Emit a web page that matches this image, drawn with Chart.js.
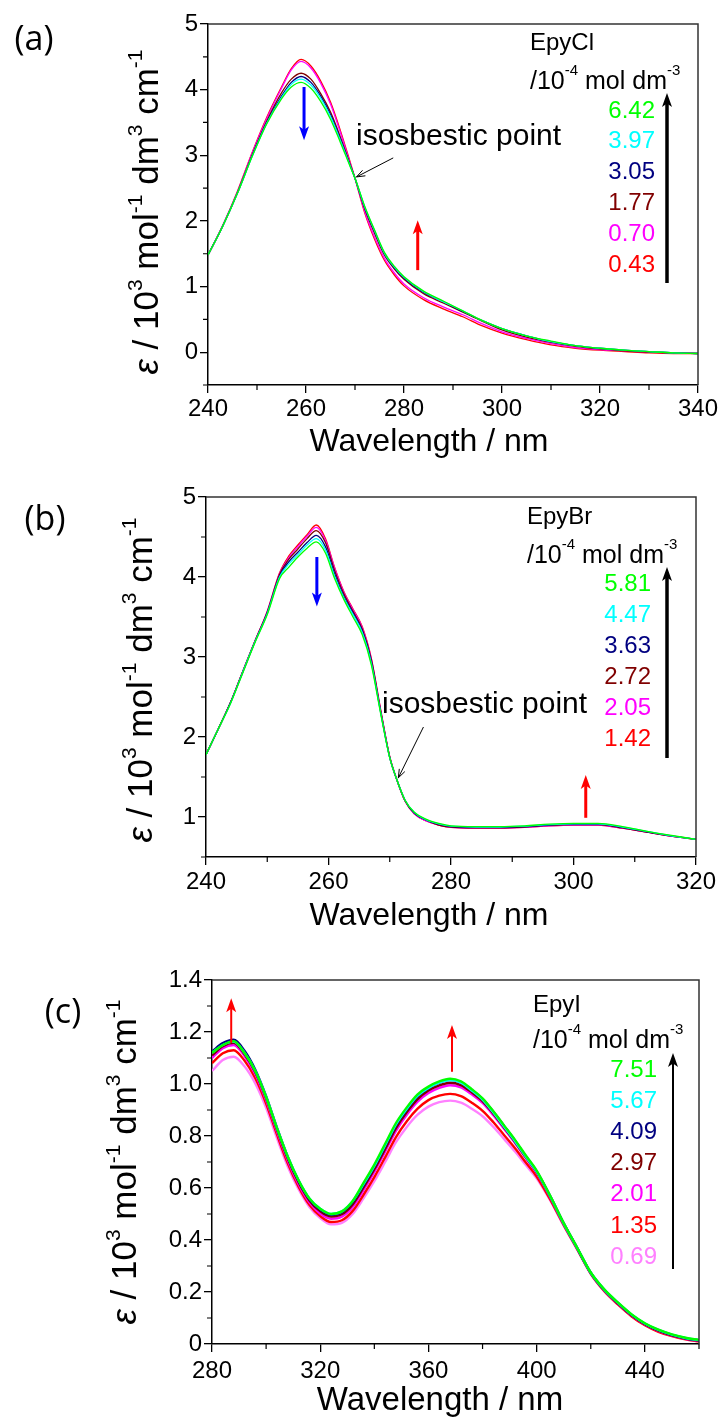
<!DOCTYPE html>
<html>
<head>
<meta charset="utf-8">
<title>UV-Vis spectra EpyCl / EpyBr / EpyI</title>
<script src="https://cdn.jsdelivr.net/npm/chart.js@4.4.1/dist/chart.umd.min.js"></script>
<style>
  html, body { margin: 0; padding: 0; background: #fff; }
  body { width: 721px; height: 1425px; position: relative; overflow: hidden; }
  canvas { position: absolute; left: 0; }
  #chartA { top: 0; }
  #chartB { top: 470px; }
  #chartC { top: 940px; }
</style>
</head>
<body>
<canvas id="chartA" width="721" height="470"></canvas>
<canvas id="chartB" width="721" height="470"></canvas>
<canvas id="chartC" width="721" height="485"></canvas>

<script>
// ---- (a) EpyCl ----
const waveCl = [240, 243, 246, 249, 252, 255, 257, 259, 261, 263, 265, 267, 269, 270, 272, 274, 276, 278, 280, 284, 288, 292, 296, 300, 305, 310, 315, 320, 325, 330, 335, 340];
const cl642 = [1.48, 1.92, 2.42, 2.98, 3.48, 3.86, 4.04, 4.11, 4.02, 3.82, 3.55, 3.20, 2.83, 2.65, 2.22, 1.86, 1.52, 1.31, 1.15, 0.93, 0.78, 0.63, 0.48, 0.36, 0.25, 0.17, 0.10, 0.06, 0.03, 0.01, -0.01, -0.02];
const cl397 = [1.48, 1.92, 2.42, 2.98, 3.49, 3.88, 4.08, 4.16, 4.07, 3.87, 3.59, 3.23, 2.84, 2.65, 2.21, 1.85, 1.51, 1.30, 1.14, 0.92, 0.77, 0.63, 0.48, 0.36, 0.25, 0.16, 0.10, 0.06, 0.03, 0.01, -0.01, -0.02];
const cl305 = [1.48, 1.92, 2.42, 2.99, 3.50, 3.90, 4.11, 4.20, 4.11, 3.90, 3.62, 3.25, 2.85, 2.65, 2.20, 1.84, 1.50, 1.29, 1.13, 0.91, 0.77, 0.62, 0.48, 0.36, 0.25, 0.16, 0.10, 0.06, 0.03, 0.01, -0.01, -0.02];
const cl177 = [1.48, 1.92, 2.43, 3.00, 3.52, 3.95, 4.16, 4.25, 4.16, 3.94, 3.66, 3.28, 2.86, 2.65, 2.18, 1.81, 1.48, 1.27, 1.11, 0.89, 0.75, 0.61, 0.47, 0.34, 0.23, 0.15, 0.09, 0.05, 0.02, 0.00, -0.01, -0.02];
const cl070 = [1.48, 1.93, 2.44, 3.03, 3.56, 4.02, 4.30, 4.43, 4.33, 4.10, 3.78, 3.35, 2.88, 2.65, 2.14, 1.75, 1.43, 1.21, 1.04, 0.83, 0.69, 0.57, 0.43, 0.31, 0.21, 0.13, 0.07, 0.04, 0.02, 0.00, -0.01, -0.02];
const cl043 = [1.48, 1.93, 2.45, 3.04, 3.58, 4.04, 4.32, 4.46, 4.36, 4.13, 3.81, 3.38, 2.90, 2.65, 2.12, 1.72, 1.40, 1.18, 1.01, 0.80, 0.66, 0.54, 0.40, 0.29, 0.19, 0.11, 0.06, 0.03, 0.01, -0.01, -0.02, -0.02];
const concCl = ['6.42', '3.97', '3.05', '1.77', '0.70', '0.43'];
const ticksXCl = [240, 260, 280, 300, 320, 340];
const ticksYCl = [0, 1, 2, 3, 4, 5];

// ---- (b) EpyBr ----
const waveBr = [240, 242, 244, 246, 248, 250, 252, 253.5, 255, 256.5, 258, 259.5, 261, 262.5, 264, 265.5, 267, 268.5, 270, 271, 272.5, 274, 276, 278, 280, 284, 288, 292, 296, 300, 304, 308, 312, 316, 320];
const br581 = [1.78, 2.10, 2.42, 2.80, 3.18, 3.53, 3.98, 4.12, 4.25, 4.36, 4.44, 4.30, 3.98, 3.72, 3.50, 3.28, 2.90, 2.30, 1.74, 1.50, 1.21, 1.06, 0.97, 0.92, 0.89, 0.88, 0.88, 0.89, 0.91, 0.92, 0.92, 0.88, 0.82, 0.77, 0.72];
const br447 = [1.78, 2.10, 2.42, 2.81, 3.19, 3.54, 4.00, 4.16, 4.28, 4.40, 4.48, 4.34, 4.01, 3.74, 3.53, 3.31, 2.92, 2.31, 1.74, 1.50, 1.21, 1.06, 0.965, 0.915, 0.885, 0.875, 0.875, 0.885, 0.905, 0.915, 0.915, 0.875, 0.82, 0.765, 0.72];
const br363 = [1.78, 2.10, 2.43, 2.81, 3.19, 3.55, 4.01, 4.19, 4.31, 4.43, 4.52, 4.38, 4.04, 3.76, 3.55, 3.33, 2.94, 2.32, 1.74, 1.50, 1.21, 1.05, 0.96, 0.91, 0.88, 0.87, 0.87, 0.88, 0.90, 0.91, 0.91, 0.87, 0.815, 0.765, 0.72];
const br272 = [1.78, 2.10, 2.43, 2.82, 3.20, 3.56, 4.03, 4.22, 4.35, 4.48, 4.58, 4.43, 4.08, 3.79, 3.57, 3.35, 2.96, 2.33, 1.75, 1.50, 1.20, 1.05, 0.96, 0.90, 0.875, 0.865, 0.865, 0.875, 0.895, 0.905, 0.905, 0.865, 0.81, 0.76, 0.72];
const br205 = [1.78, 2.10, 2.43, 2.82, 3.20, 3.57, 4.04, 4.24, 4.38, 4.51, 4.62, 4.46, 4.11, 3.81, 3.59, 3.37, 2.97, 2.34, 1.75, 1.50, 1.20, 1.04, 0.95, 0.90, 0.87, 0.86, 0.86, 0.87, 0.89, 0.90, 0.90, 0.86, 0.81, 0.76, 0.72];
const br142 = [1.78, 2.10, 2.43, 2.82, 3.20, 3.57, 4.05, 4.26, 4.40, 4.53, 4.65, 4.48, 4.12, 3.82, 3.60, 3.38, 2.98, 2.35, 1.75, 1.50, 1.20, 1.04, 0.95, 0.90, 0.87, 0.86, 0.86, 0.87, 0.89, 0.90, 0.90, 0.86, 0.81, 0.76, 0.72];
const concBr = ['5.81', '4.47', '3.63', '2.72', '2.05', '1.42'];
const ticksXBr = [240, 260, 280, 300, 320];
const ticksYBr = [1, 2, 3, 4, 5];

// ---- (c) EpyI ----
const waveI = [280, 284, 288, 292, 296, 300, 304, 308, 312, 316, 320, 324, 328, 332, 336, 340, 344, 348, 352, 356, 360, 364, 368, 372, 376, 380, 384, 388, 392, 396, 400, 405, 410, 415, 420, 425, 430, 435, 440, 445, 450, 455, 460];
const i751 = [1.12, 1.15, 1.165, 1.12, 1.05, 0.95, 0.83, 0.72, 0.63, 0.56, 0.52, 0.50, 0.51, 0.55, 0.62, 0.69, 0.77, 0.85, 0.91, 0.96, 0.99, 1.01, 1.02, 1.01, 0.98, 0.945, 0.895, 0.84, 0.785, 0.725, 0.667, 0.57, 0.465, 0.37, 0.275, 0.21, 0.16, 0.115, 0.08, 0.055, 0.037, 0.024, 0.016];
const i567 = [1.12, 1.15, 1.163, 1.12, 1.05, 0.95, 0.83, 0.72, 0.63, 0.56, 0.52, 0.50, 0.51, 0.55, 0.615, 0.685, 0.765, 0.845, 0.905, 0.955, 0.985, 1.005, 1.015, 1.005, 0.975, 0.94, 0.89, 0.835, 0.78, 0.72, 0.663, 0.568, 0.463, 0.369, 0.274, 0.209, 0.159, 0.114, 0.079, 0.054, 0.036, 0.023, 0.015];
const i409 = [1.125, 1.157, 1.17, 1.128, 1.055, 0.953, 0.832, 0.72, 0.628, 0.558, 0.517, 0.497, 0.507, 0.546, 0.612, 0.683, 0.762, 0.842, 0.903, 0.953, 0.985, 1.005, 1.016, 1.006, 0.977, 0.942, 0.893, 0.838, 0.782, 0.722, 0.664, 0.569, 0.464, 0.369, 0.274, 0.208, 0.158, 0.113, 0.078, 0.053, 0.035, 0.022, 0.014];
const i297 = [1.11, 1.145, 1.158, 1.115, 1.045, 0.945, 0.825, 0.713, 0.622, 0.552, 0.51, 0.49, 0.499, 0.537, 0.602, 0.672, 0.75, 0.83, 0.892, 0.942, 0.975, 0.995, 1.005, 0.996, 0.968, 0.934, 0.886, 0.832, 0.777, 0.718, 0.661, 0.567, 0.463, 0.368, 0.273, 0.207, 0.156, 0.111, 0.076, 0.051, 0.033, 0.021, 0.013];
const i201 = [1.10, 1.138, 1.15, 1.108, 1.038, 0.938, 0.818, 0.706, 0.615, 0.545, 0.502, 0.482, 0.49, 0.527, 0.592, 0.662, 0.74, 0.82, 0.882, 0.932, 0.965, 0.985, 0.995, 0.987, 0.96, 0.927, 0.88, 0.827, 0.773, 0.715, 0.658, 0.565, 0.462, 0.367, 0.272, 0.206, 0.155, 0.11, 0.075, 0.05, 0.032, 0.02, 0.012];
const i135 = [1.08, 1.118, 1.13, 1.09, 1.022, 0.925, 0.806, 0.695, 0.605, 0.535, 0.492, 0.469, 0.476, 0.512, 0.574, 0.642, 0.718, 0.796, 0.857, 0.905, 0.938, 0.955, 0.962, 0.953, 0.928, 0.897, 0.853, 0.803, 0.753, 0.698, 0.644, 0.556, 0.457, 0.364, 0.27, 0.203, 0.152, 0.107, 0.072, 0.047, 0.03, 0.018, 0.01];
const i069 = [1.05, 1.092, 1.105, 1.068, 1.002, 0.908, 0.792, 0.683, 0.595, 0.527, 0.484, 0.46, 0.466, 0.5, 0.56, 0.626, 0.7, 0.776, 0.835, 0.882, 0.913, 0.93, 0.936, 0.928, 0.905, 0.876, 0.835, 0.788, 0.74, 0.688, 0.637, 0.552, 0.455, 0.364, 0.271, 0.205, 0.154, 0.109, 0.074, 0.049, 0.032, 0.02, 0.012];
const concI = ['7.51', '5.67', '4.09', '2.97', '2.01', '1.35', '0.69'];
const ticksXI = [280, 320, 360, 400, 440];
const ticksYI = [0, 0.2, 0.4, 0.6, 0.8, 1.0, 1.2, 1.4];

// same colour order as the concentration lists (highest first)
const curveColors = ['#00ff00', '#00ffff', '#000080', '#800000', '#ff00ff', '#ff0000', '#ff80ff'];

const FONT = '"Liberation Sans", Arial, sans-serif';

// text with superscripts, parts = [[text, 'sup' | 'it' | undefined], ...]
function richText(ctx, parts, x, y, size, align) {
    const fontFor = p => (p[1] === 'it' ? 'italic ' : '') + (p[1] === 'sup' ? Math.round(size * 0.6) : size) + 'px ' + FONT;
    let total = 0;
    parts.forEach(p => { ctx.font = fontFor(p); total += ctx.measureText(p[0]).width; });
    let cx = align === 'center' ? x - total / 2 : (align === 'right' ? x - total : x);
    ctx.textAlign = 'left';
    parts.forEach(p => {
        ctx.font = fontFor(p);
        ctx.fillText(p[0], cx, p[1] === 'sup' ? y - size * 0.45 : y);
        cx += ctx.measureText(p[0]).width;
    });
}

function arrow(ctx, x1, y1, x2, y2, color, lw, headL, headW) {
    const ang = Math.atan2(y2 - y1, x2 - x1);
    ctx.save();
    ctx.strokeStyle = color;
    ctx.fillStyle = color;
    ctx.lineWidth = lw;
    ctx.beginPath();
    ctx.moveTo(x1, y1);
    ctx.lineTo(x2 - Math.cos(ang) * headL * 0.6, y2 - Math.sin(ang) * headL * 0.6);
    ctx.stroke();
    ctx.translate(x2, y2);
    ctx.rotate(ang);
    ctx.beginPath();
    ctx.moveTo(0, 0);
    ctx.lineTo(-headL, headW / 2);
    ctx.lineTo(-headL * 0.75, 0);
    ctx.lineTo(-headL, -headW / 2);
    ctx.closePath();
    ctx.fill();
    ctx.restore();
}

// thin pointer with an open head
function pointer(ctx, x1, y1, x2, y2) {
    const ang = Math.atan2(y2 - y1, x2 - x1);
    ctx.save();
    ctx.strokeStyle = '#000';
    ctx.lineWidth = 1;
    ctx.beginPath();
    ctx.moveTo(x1, y1);
    ctx.lineTo(x2, y2);
    ctx.moveTo(x2 - Math.cos(ang - 0.35) * 9, y2 - Math.sin(ang - 0.35) * 9);
    ctx.lineTo(x2, y2);
    ctx.lineTo(x2 - Math.cos(ang + 0.35) * 9, y2 - Math.sin(ang + 0.35) * 9);
    ctx.stroke();
    ctx.restore();
}

const yTitle = [['ε', 'it'], [' / 10'], ['3', 'sup'], [' mol'], ['-1', 'sup'], [' dm'], ['3', 'sup'], [' cm'], ['-1', 'sup']];

function decorPlugin(p) {
    return {
        id: 'decor' + p.tag,
        afterDraw(chart) {
            const ctx = chart.ctx;
            const a = chart.chartArea;
            const sx = chart.scales.x, sy = chart.scales.y;
            const X = v => sx.getPixelForValue(v);
            const Y = v => sy.getPixelForValue(v);
            ctx.save();

            // frame: top and right sides
            ctx.strokeStyle = '#333';
            ctx.lineWidth = 1.5;
            ctx.beginPath();
            ctx.moveTo(a.left, a.top);
            ctx.lineTo(a.right, a.top);
            ctx.lineTo(a.right, a.bottom);
            ctx.stroke();

            // minor ticks
            ctx.strokeStyle = '#000';
            ctx.lineWidth = 1.2;
            ctx.beginPath();
            for (let v = p.xMin; v <= p.xMax + 1e-9; v += p.xMinor) {
                if (p.xTicks.some(t => Math.abs(t - v) < 1e-6)) continue;
                ctx.moveTo(X(v), a.bottom);
                ctx.lineTo(X(v), a.bottom + 5);
            }
            for (let v = p.yMin; v <= p.yMax + 1e-9; v += p.yMinor) {
                if (p.yTicks.some(t => Math.abs(t - v) < 1e-6)) continue;
                ctx.moveTo(a.left, Y(v));
                ctx.lineTo(a.left - 5, Y(v));
            }
            ctx.stroke();

            ctx.fillStyle = '#000';
            ctx.textBaseline = 'middle';

            // panel letter
            ctx.font = '34px "Open Sans", "Noto Sans", sans-serif';
            ctx.textAlign = 'center';
            ctx.fillText(p.letter, p.letterPos[0], p.letterPos[1]);

            // y title (rotated)
            ctx.save();
            ctx.translate(p.yTitlePos[0], p.yTitlePos[1]);
            ctx.rotate(-Math.PI / 2);
            ctx.textBaseline = 'alphabetic';
            richText(ctx, yTitle, 0, 0, 35, 'center');
            ctx.restore();

            // x title
            ctx.textBaseline = 'alphabetic';
            ctx.textAlign = 'center';
            ctx.font = p.xTitleSize + 'px ' + FONT;
            ctx.fillText('Wavelength / nm', p.xTitlePos[0], p.xTitlePos[1]);

            // legend block
            ctx.textBaseline = 'middle';
            ctx.textAlign = 'left';
            ctx.font = '24px ' + FONT;
            ctx.fillText(p.name, p.legend.x, p.legend.titleY);
            richText(ctx, [['/10'], ['-4', 'sup'], [' mol dm'], ['-3', 'sup']], p.legend.x, p.legend.unitY, 25, 'left');
            ctx.font = '24px ' + FONT;
            ctx.textAlign = 'right';
            p.conc.forEach((c, i) => {
                ctx.fillStyle = curveColors[i];
                ctx.fillText(c, p.legend.numX, p.legend.numY + i * p.legend.numStep);
            });
            arrow(ctx, p.legend.arrowX, p.legend.arrowBottom, p.legend.arrowX, p.legend.arrowTop, '#000', p.legend.arrowW, 14, 10);

            // concentration-trend arrows on the curves (data coordinates)
            p.trendArrows.forEach(t => {
                arrow(ctx, X(t.x), Y(t.from), X(t.x), Y(t.to), t.color, t.w, 14, 10);
            });

            // isosbestic point
            if (p.iso) {
                ctx.fillStyle = '#000';
                ctx.textAlign = 'left';
                ctx.textBaseline = 'middle';
                ctx.font = '30px ' + FONT;
                ctx.fillText('isosbestic point', p.iso.textX, p.iso.textY);
                pointer(ctx, X(p.iso.from[0]), Y(p.iso.from[1]), X(p.iso.to[0]), Y(p.iso.to[1]));
            }
            ctx.restore();
        }
    };
}

function buildChart(id, p) {
    const ctx = document.getElementById(id).getContext('2d');
    const tickFont = { family: FONT, size: 24 };
    return new Chart(ctx, {
        type: 'line',
        data: {
            datasets: p.series.map((vals, i) => ({
                data: p.wave.map((w, k) => ({ x: w, y: vals[k] })),
                borderColor: curveColors[i],
                borderWidth: p.lineWidth,
                pointRadius: 0,
                fill: false,
                cubicInterpolationMode: 'monotone'
            }))
        },
        options: {
            responsive: false,
            animation: false,
            events: [],
            layout: { padding: { top: p.area.top, right: 721 - p.area.right, left: 0, bottom: 0 } },
            plugins: { legend: { display: false }, tooltip: { enabled: false } },
            scales: {
                x: {
                    type: 'linear',
                    min: p.xMin,
                    max: p.xMax,
                    afterBuildTicks: s => { s.ticks = p.xTicks.map(v => ({ value: v })); },
                    afterFit: s => { s.height = p.height - p.area.bottom; },
                    ticks: { font: tickFont, color: '#000', padding: p.xPad, maxRotation: 0, autoSkip: false },
                    grid: { drawOnChartArea: false, tickLength: 8, color: '#000', lineWidth: 1.3 },
                    border: { color: '#000', width: 1.5 }
                },
                y: {
                    type: 'linear',
                    min: p.yMin,
                    max: p.yMax,
                    afterBuildTicks: s => { s.ticks = p.yTicks.map(v => ({ value: v })); },
                    afterFit: s => { s.width = p.area.left; },
                    ticks: { font: tickFont, color: '#000', padding: 2, callback: p.yFmt },
                    grid: { drawOnChartArea: false, tickLength: 8, color: '#000', lineWidth: 1.3 },
                    border: { color: '#000', width: 1.5 }
                }
            }
        },
        plugins: [decorPlugin(p)]
    });
}

document.addEventListener('DOMContentLoaded', function() {
    buildChart('chartA', {
        tag: 'A', letter: '(a)', letterPos: [34, 40], name: 'EpyCl', conc: concCl,
        wave: waveCl, series: [cl642, cl397, cl305, cl177, cl070, cl043], lineWidth: 1.3,
        xMin: 240, xMax: 340, xTicks: ticksXCl, xMinor: 10,
        yMin: -0.5, yMax: 5, yTicks: ticksYCl, yMinor: 0.5, yFmt: v => String(v),
        area: { left: 208, top: 24, right: 698, bottom: 385 }, height: 470, xPad: 2,
        yTitlePos: [158, 212], xTitlePos: [429, 451], xTitleSize: 32,
        legend: { x: 530, titleY: 43, unitY: 82, numX: 655, numY: 111, numStep: 30.8, arrowX: 667, arrowTop: 93, arrowBottom: 283, arrowW: 3.5 },
        trendArrows: [
            { x: 259.6, from: 4.04, to: 3.23, color: '#0000ff', w: 3 },
            { x: 282.8, from: 1.25, to: 2.01, color: '#ff0000', w: 3 }
        ],
        iso: { textX: 356, textY: 137, from: [277.8, 2.96], to: [270.3, 2.67] }
    });

    buildChart('chartB', {
        tag: 'B', letter: '(b)', letterPos: [45, 50], name: 'EpyBr', conc: concBr,
        wave: waveBr, series: [br581, br447, br363, br272, br205, br142], lineWidth: 1.3,
        xMin: 240, xMax: 320, xTicks: ticksXBr, xMinor: 10,
        yMin: 0.5, yMax: 5, yTicks: ticksYBr, yMinor: 0.5, yFmt: v => String(v),
        area: { left: 206, top: 27, right: 696, bottom: 387 }, height: 470, xPad: 3,
        yTitlePos: [152, 210], xTitlePos: [429, 455], xTitleSize: 32,
        legend: { x: 527, titleY: 47, unitY: 86, numX: 651, numY: 114, numStep: 31, arrowX: 667, arrowTop: 97, arrowBottom: 288, arrowW: 3.5 },
        trendArrows: [
            { x: 258.1, from: 4.25, to: 3.63, color: '#0000ff', w: 3 },
            { x: 302, from: 0.99, to: 1.525, color: '#ff0000', w: 3 }
        ],
        iso: { textX: 382, textY: 235, from: [275.5, 2.125], to: [271.4, 1.49] }
    });

    buildChart('chartC', {
        tag: 'C', letter: '(c)', letterPos: [63, 73], name: 'EpyI', conc: concI,
        wave: waveI, series: [i751, i567, i409, i297, i201, i135, i069], lineWidth: 2.4,
        xMin: 280, xMax: 460, xTicks: ticksXI, xMinor: 20,
        yMin: 0, yMax: 1.4, yTicks: ticksYI, yMinor: 0.1, yFmt: v => (v === 0 ? '0' : v.toFixed(1)),
        area: { left: 212, top: 40, right: 699, bottom: 404 }, height: 485, xPad: 5,
        yTitlePos: [136, 222], xTitlePos: [440, 470], xTitleSize: 33,
        legend: { x: 533, titleY: 65, unitY: 101, numX: 657, numY: 130, numStep: 31.2, arrowX: 673, arrowTop: 113, arrowBottom: 329, arrowW: 2 },
        trendArrows: [
            { x: 287.1, from: 1.158, to: 1.33, color: '#ff0000', w: 2 },
            { x: 368.7, from: 1.047, to: 1.227, color: '#ff0000', w: 2 }
        ],
        iso: null
    });
});
</script>
</body>
</html>
